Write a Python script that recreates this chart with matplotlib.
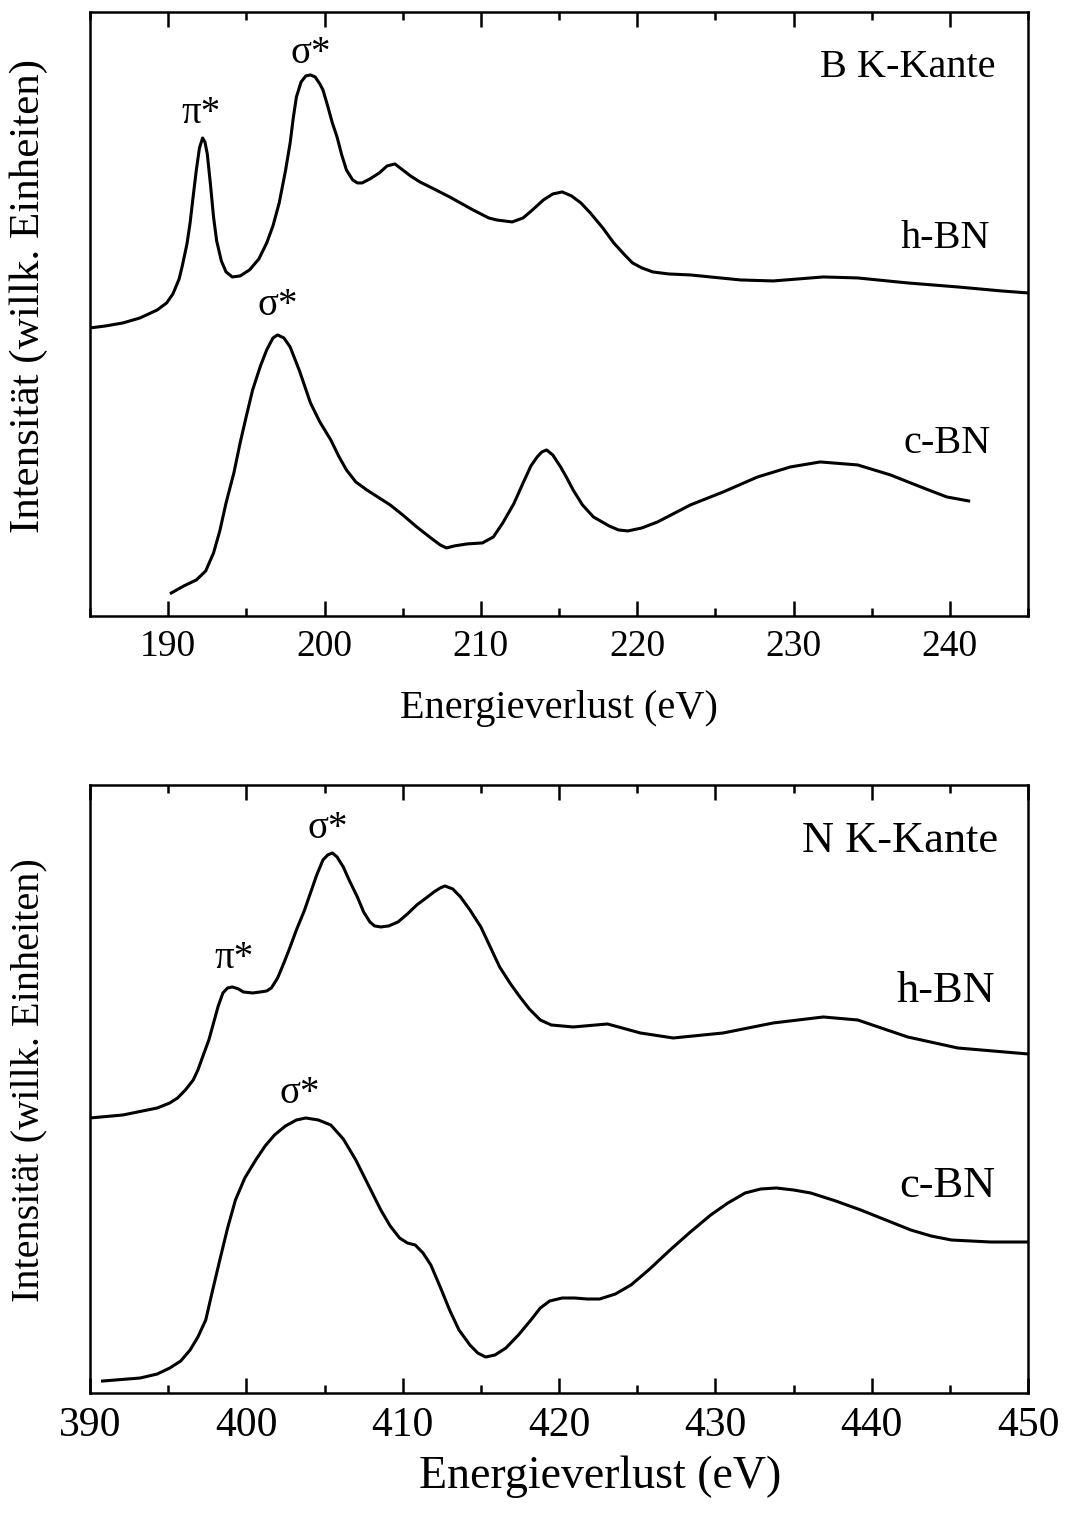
import matplotlib.pyplot as plt
from matplotlib.ticker import MultipleLocator

plt.rcParams['font.family'] = ['Liberation Serif', 'DejaVu Serif']

# B K-edge (top panel), intensity in arbitrary units
b_hbn_x = [185.0, 186.0, 187.1, 188.2, 189.3, 189.9, 190.3, 190.7, 190.9, 191.2, 191.4, 191.6,
           191.8, 192.0, 192.2, 192.35, 192.5, 192.7, 192.9, 193.1, 193.4, 193.7, 194.1, 194.6,
           195.2, 195.8, 196.3, 196.7, 197.1, 197.5, 197.8, 198.0, 198.2, 198.5, 198.8, 199.1,
           199.4, 199.7, 199.9, 200.2, 200.5, 200.8, 201.1, 201.4, 201.8, 202.1, 202.4, 202.9,
           203.5, 204.0, 204.5, 205.0, 205.5, 206.1, 207.0, 208.0, 209.5, 210.5, 211.0, 212.0,
           212.7, 213.3, 214.0, 214.6, 215.2, 215.8, 216.4, 217.0, 217.8, 218.5, 219.2, 219.7,
           220.3, 221.0, 222.0, 223.4, 226.6, 228.7, 231.9, 234.1, 237.3, 240.5, 243.3, 245.0]
b_hbn_y = [288, 290, 293, 298, 306, 313, 322, 337, 350, 372, 393, 420,
           446, 468, 478, 474, 462, 432, 399, 375, 355, 344, 339, 340,
           346, 357, 373, 390, 413, 445, 473, 498, 519, 534, 540, 541,
           539, 532, 526, 510, 493, 479, 461, 446, 436, 433, 433, 437,
           443, 450, 452, 446, 440, 434, 427, 419, 406, 398, 396, 394,
           398, 406, 416, 422, 424, 420, 413, 403, 388, 373, 361, 353,
           348, 344, 342, 341, 336, 335, 339, 338, 333, 329, 325, 323]

b_cbn_x = [190.2, 191.0, 191.8, 192.4, 192.9, 193.3, 193.7, 194.2, 194.6, 195.0, 195.4, 195.9,
           196.3, 196.7, 197.0, 197.4, 197.8, 198.4, 199.1, 199.7, 200.4, 200.9, 201.4, 202.0,
           202.7, 203.4, 204.2, 205.0, 205.9, 206.8, 207.4, 207.8, 208.3, 209.1, 210.1, 210.8,
           211.4, 212.1, 212.7, 213.2, 213.6, 213.9, 214.2, 214.6, 215.1, 215.5, 215.9, 216.5,
           217.2, 218.2, 218.8, 219.4, 220.3, 221.3, 223.4, 225.5, 227.7, 229.8, 231.7, 234.1,
           236.2, 238.3, 239.8, 241.2]
b_cbn_y = [23, 30, 36, 45, 63, 85, 113, 143, 173, 200, 226, 250,
           266, 278, 281, 278, 269, 245, 213, 194, 176, 160, 146, 134,
           126, 119, 111, 101, 89, 78, 71, 68, 70, 72, 73, 79,
           93, 112, 133, 150, 159, 164, 166, 161, 149, 138, 126, 111,
           99, 90, 86, 85, 88, 94, 111, 124, 139, 149, 154, 151,
           141, 128, 119, 115]

# N K-edge (bottom panel)
n_hbn_x = [390.0, 392.1, 394.3, 395.1, 395.6, 396.1, 396.6, 396.9, 397.2, 397.6, 397.9, 398.2,
           398.5, 398.8, 399.1, 399.5, 399.8, 400.4, 400.9, 401.3, 401.6, 402.0, 402.4, 402.8,
           403.2, 403.7, 404.1, 404.5, 404.9, 405.2, 405.5, 405.8, 406.2, 406.6, 407.1, 407.5,
           407.9, 408.2, 408.6, 409.1, 409.7, 410.3, 410.9, 411.5, 412.0, 412.4, 412.7, 413.2,
           413.7, 414.3, 415.0, 415.6, 416.2, 416.9, 417.5, 418.1, 418.8, 419.5, 420.9, 423.1,
           425.2, 427.3, 430.5, 433.7, 436.9, 439.1, 442.3, 445.5, 450.0]
n_hbn_y = [275, 278, 285, 290, 295, 303, 313, 323, 336, 353, 370, 387,
           400, 405, 406, 404, 401, 400, 401, 402, 405, 415, 430, 446,
           463, 482, 500, 518, 533, 538, 540, 536, 526, 512, 496, 481,
           471, 467, 466, 467, 471, 479, 488, 495, 501, 505, 507, 504,
           496, 483, 466, 446, 426, 409, 396, 384, 373, 368, 366, 369,
           360, 355, 360, 370, 376, 373, 356, 345, 339]

n_cbn_x = [390.8, 393.2, 394.3, 395.1, 395.8, 396.4, 396.9, 397.4, 397.8, 398.3, 398.8, 399.3,
           399.9, 400.6, 401.2, 401.8, 402.5, 403.2, 403.8, 404.6, 405.4, 406.2, 407.0, 407.8,
           408.6, 409.2, 409.8, 410.3, 410.8, 411.3, 411.8, 412.4, 413.0, 413.6, 414.3, 414.8,
           415.3, 415.9, 416.6, 417.4, 418.2, 418.8, 419.4, 420.2, 421.0, 421.8, 422.6, 423.6,
           424.6, 425.8, 427.1, 428.4, 429.7, 430.8, 431.9, 432.9, 433.9, 435.0, 436.1, 437.7,
           439.3, 440.9, 442.5, 443.8, 445.1, 447.6, 450.0]
n_cbn_y = [12, 15, 19, 25, 32, 43, 56, 73, 100, 133, 165, 193,
           215, 233, 247, 258, 267, 273, 275, 273, 268, 254, 233, 208,
           183, 167, 155, 150, 148, 140, 128, 106, 83, 63, 48, 40,
           36, 38, 45, 58, 73, 85, 92, 95, 95, 94, 94, 99,
           108, 124, 143, 161, 178, 190, 200, 204, 205, 203, 200, 192,
           183, 173, 163, 157, 153, 151, 151]

fig = plt.figure(figsize=(10.68, 15.13), dpi=100)
ax1 = fig.add_axes([0.0843, 0.5929, 0.8783, 0.3992])
ax2 = fig.add_axes([0.0843, 0.0793, 0.8783, 0.4019])

lw = 2.2
ax1.plot(b_hbn_x, b_hbn_y, color='black', lw=lw)
ax1.plot(b_cbn_x, b_cbn_y, color='black', lw=lw)
ax2.plot(n_hbn_x, n_hbn_y, color='black', lw=lw)
ax2.plot(n_cbn_x, n_cbn_y, color='black', lw=lw)

ax1.set_xlim(185, 245)
ax1.set_ylim(0, 604)
ax2.set_xlim(390, 450)
ax2.set_ylim(0, 608)

for ax, fs in [(ax1, 27), (ax2, 30)]:
    ax.xaxis.set_major_locator(MultipleLocator(10))
    ax.xaxis.set_minor_locator(MultipleLocator(5))
    ax.set_yticks([])
    ax.tick_params(axis='x', which='both', direction='in', top=True, width=1.8,
                   labelsize=fs, pad=10)
    ax.tick_params(axis='x', which='major', length=11)
    ax.tick_params(axis='x', which='minor', length=6)
    for s in ax.spines.values():
        s.set_linewidth(1.8)

ax1.set_xlabel('Energieverlust (eV)', fontsize=29)
ax2.set_xlabel('Energieverlust (eV)', fontsize=33)
ax1.xaxis.set_label_coords(0.5, -0.122)
ax2.xaxis.set_label_coords(0.544, -0.102)
ax1.set_ylabel('Intensität (willk. Einheiten)', fontsize=31)
ax2.set_ylabel('Intensität (willk. Einheiten)', fontsize=29)
ax1.yaxis.set_label_coords(-0.045, 0.53)
ax2.yaxis.set_label_coords(-0.045, 0.515)

# annotations, top panel
ax1.text(192.1, 493, 'π*', fontsize=28, ha='center', va='baseline')
ax1.text(199.1, 553, 'σ*', fontsize=28, ha='center', va='baseline')
ax1.text(197.0, 301, 'σ*', fontsize=28, ha='center', va='baseline')
ax1.text(242.9, 539, 'B K-Kante', fontsize=29, ha='right', va='baseline')
ax1.text(242.6, 368, 'h-BN', fontsize=29, ha='right', va='baseline')
ax1.text(242.6, 163, 'c-BN', fontsize=29, ha='right', va='baseline')

# annotations, bottom panel
ax2.text(405.2, 555, 'σ*', fontsize=28, ha='center', va='baseline')
ax2.text(399.2, 425, 'π*', fontsize=28, ha='center', va='baseline')
ax2.text(403.4, 290, 'σ*', fontsize=28, ha='center', va='baseline')
ax2.text(448.1, 541, 'N K-Kante', fontsize=32, ha='right', va='baseline')
ax2.text(447.9, 391, 'h-BN', fontsize=32, ha='right', va='baseline')
ax2.text(447.9, 196, 'c-BN', fontsize=32, ha='right', va='baseline')

fig.savefig('out.png', dpi=100)
